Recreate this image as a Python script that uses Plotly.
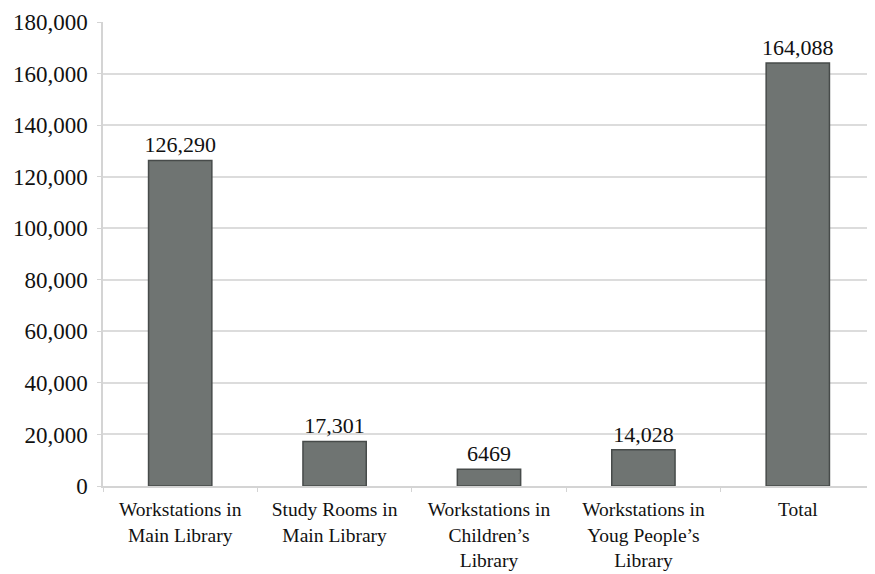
import plotly.graph_objects as go

# seat counts
categories = [
    "Workstations in<br>Main Library",
    "Study Rooms in<br>Main Library",
    "Workstations in<br>Children\u2019s<br>Library",
    "Workstations in<br>Youg People\u2019s<br>Library",
    "Total",
]
seats = [126290, 17301, 6469, 14028, 164088]
y_ticks = list(range(0, 180001, 20000))

labels = [f"{v:,}" if v >= 10000 else str(v) for v in seats]

fig = go.Figure()
fig.add_trace(go.Bar(
    x=categories,
    y=seats,
    text=labels,
    textposition="outside",
    constraintext="none",
    textfont=dict(size=22, color="#111111"),
    cliponaxis=False,
    marker=dict(color="#6f7472", line=dict(color="#474b4a", width=1.5)),
))

# page body has an 8px margin, so the figure is a bit smaller than the window
fig.update_layout(
    width=867,
    height=566,
    margin=dict(l=95, r=0, t=14, b=88),
    plot_bgcolor="white",
    paper_bgcolor="white",
    font=dict(family="Liberation Serif, Times New Roman, serif", size=21, color="#111111"),
    bargap=0.59,
    showlegend=False,
)

fig.update_xaxes(
    automargin=False,
    showline=True,
    linecolor="#d4d4d4",
    linewidth=1.5,
    ticks="outside",
    tickson="boundaries",
    ticklen=4,
    tickcolor="#d4d4d4",
    ticklabelstandoff=5,
    tickfont=dict(size=19.5),
)

fig.update_yaxes(
    automargin=False,
    range=[0, 180000],
    tickvals=y_ticks,
    tickformat=",d",
    showgrid=True,
    gridcolor="#dcdcdc",
    gridwidth=1.5,
    showline=True,
    linecolor="#d4d4d4",
    linewidth=1.5,
    ticks="outside",
    ticklen=4,
    tickcolor="#d4d4d4",
    ticklabelstandoff=5,
    tickfont=dict(size=23),
    zeroline=False,
)

fig.write_html("out.html")
